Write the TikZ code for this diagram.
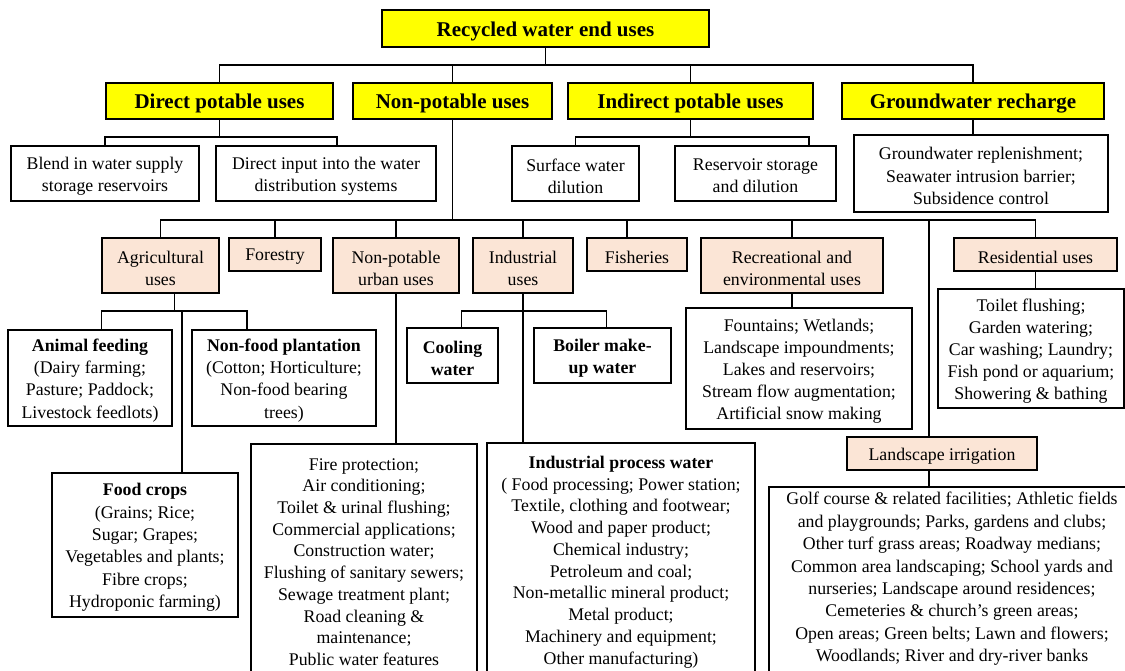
\documentclass[tikz,border=0pt]{standalone}
\usepackage{fontspec}
\setmainfont{Liberation Serif}
\usetikzlibrary{calc}

\definecolor{headyellow}{HTML}{FFFF00}
\definecolor{cattan}{HTML}{FBE5D6}

\tikzset{
  frame/.style={draw=black, line width=1.5pt, inner sep=0pt, outer sep=0pt},
  txt/.style={inner sep=0pt, outer sep=0pt, align=center,
    font=\fontsize{13.35}{16.6}\selectfont},
  headbox/.style={frame, fill=headyellow},
  headbox text/.style={txt, font=\bfseries\fontsize{15.75}{18}\selectfont},
  catbox/.style={frame, fill=cattan},
  catbox text/.style={txt},
  listbox/.style={frame, fill=white},
  listbox text/.style={txt},
  tightlist/.style={frame, fill=white},
  tightlist text/.style={txt, font=\fontsize{13.35}{16.3}\selectfont},
  widelist/.style={frame, fill=white},
  widelist text/.style={txt, font=\fontsize{13.35}{16.8}\selectfont},
  link/.style={draw=black, line width=1.3pt},
}

% box from (x1,y1) to (x2,y2) in pixel units, text centred in it
\newcommand\placebox[7]{%
  \pgfmathsetmacro\boxw{(#4-#2)*0.75}%
  \pgfmathsetmacro\boxh{(#5-#3)*0.75}%
  \node[#6, minimum width=\boxw pt, minimum height=\boxh pt] (#1)
    at ({(#2+#4)/2},{(#3+#5)/2}) {};
  \node[#6 text] (#1-t) at ([yshift=-1.9pt]#1.center) {#7};}

% same, with the text block centred at height #7
\newcommand\placeboxat[8]{%
  \pgfmathsetmacro\boxw{(#4-#2)*0.75}%
  \pgfmathsetmacro\boxh{(#5-#3)*0.75}%
  \node[#6, minimum width=\boxw pt, minimum height=\boxh pt] (#1)
    at ({(#2+#4)/2},{(#3+#5)/2}) {};
  \node[#6 text] (#1-t) at ({(#2+#4)/2},#7) {#8};}

\begin{document}
\begin{tikzpicture}[x=0.75pt, y=-0.75pt]
\useasboundingbox (0,0) rectangle (1125,671);
\fill[white] (0,0) rectangle (1125,671);
\clip (0,0) rectangle (1125,671);

% ---- level 0 and 1
\placebox{title}{382}{10}{709}{47}{headbox}{Recycled water end uses}
\placebox{dp}{106}{83}{333}{119}{headbox}{Direct potable uses}
\placebox{np}{353}{83}{552}{119}{headbox}{Non-potable uses}
\placebox{ip}{568}{83}{813}{119}{headbox}{Indirect potable uses}
\placebox{gr}{842}{83}{1104}{119}{headbox}{Groundwater recharge}

% ---- potable branches
\placebox{blend}{11}{146}{199}{201}{listbox}{Blend in water supply\\storage reservoirs}
\placebox{direct}{216}{146}{436}{201}{listbox}{Direct input into the water\\distribution systems}
\placebox{surface}{512}{146}{639}{201}{listbox}{Surface water\\dilution}
\placebox{reservoir}{675}{146}{836}{201}{listbox}{Reservoir storage\\and dilution}
\placebox{grsub}{854}{135}{1108}{212}{listbox}{Groundwater replenishment;\\Seawater intrusion barrier;\\Subsidence control}

% ---- non-potable categories
\placebox{agri}{102}{238}{219}{293}{catbox}{Agricultural\\uses}
\placebox{forest}{229}{238}{321}{271}{catbox}{Forestry}
\placebox{npu}{333}{238}{459}{293}{catbox}{Non-potable\\urban uses}
\placebox{ind}{473}{238}{573}{293}{catbox}{Industrial\\uses}
\placebox{fish}{587}{238}{687}{271}{catbox}{Fisheries}
\placebox{rec}{701}{238}{883}{293}{catbox}{Recreational and\\environmental uses}
\placebox{res}{954}{238}{1117}{271}{catbox}{Residential uses}
\placebox{lscape}{847}{437}{1037}{470}{catbox}{Landscape irrigation}

% ---- detail boxes
\placebox{animal}{8}{330}{172}{426}{listbox}{\textbf{Animal feeding}\\(Dairy farming;\\Pasture; Paddock;\\Livestock feedlots)}
\placebox{nonfood}{192}{330}{376}{426}{listbox}{\textbf{Non-food plantation}\\(Cotton; Horticulture;\\Non-food bearing\\trees)}
\placebox{food}{52}{473}{238}{617}{widelist}{\textbf{Food crops}\\(Grains; Rice;\\Sugar; Grapes;\\Vegetables and plants;\\Fibre crops;\\Hydroponic farming)}
\placebox{cooling}{407}{328}{498}{383}{listbox}{\textbf{Cooling}\\\textbf{water}}
\placebox{boiler}{534}{328}{671}{383}{listbox}{\textbf{Boiler make-}\\\textbf{up water}}
\placebox{recsub}{686}{308}{912}{429}{listbox}{Fountains; Wetlands;\\Landscape impoundments;\\Lakes and reservoirs;\\Stream flow augmentation;\\Artificial snow making}
\placebox{ressub}{938}{289}{1124}{408}{listbox}{Toilet flushing;\\Garden watering;\\Car washing; Laundry;\\Fish pond or aquarium;\\Showering \& bathing}
\placeboxat{npusub}{251}{444}{477}{700}{tightlist}{562}{Fire protection;\\Air conditioning;\\Toilet \& urinal flushing;\\Commercial applications;\\Construction water;\\Flushing of sanitary sewers;\\Sewage treatment plant;\\Road cleaning \&\\maintenance;\\Public water features}
\placeboxat{indsub}{487}{443}{755}{700}{tightlist}{562}{\textbf{Industrial process water}\\( Food processing; Power station;\\Textile, clothing and footwear;\\Wood and paper product;\\Chemical industry;\\Petroleum and coal;\\Non-metallic mineral product;\\Metal product;\\Machinery and equipment;\\Other manufacturing)}
\placeboxat{lsub}{769}{487}{1135}{700}{widelist}{579}{Golf course \& related facilities; Athletic fields\\and playgrounds; Parks, gardens and clubs;\\Other turf grass areas; Roadway medians;\\Common area landscaping; School yards and\\nurseries; Landscape around residences;\\Cemeteries \& church’s green areas;\\Open areas; Green belts; Lawn and flowers;\\Woodlands; River and dry-river banks}

% ---- bus levels
\coordinate (busA) at (0,65);
\coordinate (busB) at (0,137);
\coordinate (busC) at (0,220);
\coordinate (busD) at (0,311);

% ---- off-centre attachment points on box edges
\coordinate (directTop) at ($(direct.north west)!0.55!(direct.north east)$);
\coordinate (resTop) at ($(reservoir.north west)!0.83!(reservoir.north east)$);
\coordinate (agriBot) at ($(agri.south west)!0.62!(agri.south east)$);
\coordinate (animalTop) at ($(animal.north west)!0.57!(animal.north east)$);
\coordinate (nonfoodTop) at ($(nonfood.north west)!0.3!(nonfood.north east)$);
\coordinate (foodTop) at ($(food.north west)!0.7!(food.north east)$);
\coordinate (coolTop) at ($(cooling.north west)!0.6!(cooling.north east)$);
\coordinate (boilTop) at ($(boiler.north west)!0.53!(boiler.north east)$);
\coordinate (fishTop) at ($(fish.north west)!0.4!(fish.north east)$);
\coordinate (lsTop) at ($(lscape.north west)!0.43!(lscape.north east)$);
\coordinate (lsBot) at ($(lscape.south west)!0.43!(lscape.south east)$);

% ---- connectors: top level
\draw[link] (title.south) -- (title.south |- busA);
\draw[link] (dp.north) -- (dp.north |- busA) -- (gr.north |- busA) -- (gr.north);
\draw[link] (np.north) -- (np.north |- busA);
\draw[link] (ip.north) -- (ip.north |- busA);

% direct potable
\draw[link] (dp.south) -- (dp.south |- busB);
\draw[link] (blend.north) -- (blend.north |- busB) -- (directTop |- busB) -- (directTop);
% indirect potable
\draw[link] (ip.south) -- (ip.south |- busB);
\draw[link] (surface.north) -- (surface.north |- busB) -- (resTop |- busB) -- (resTop);
% groundwater recharge
\draw[link] (gr.south) -- (gr.south |- grsub.north);

% non-potable
\draw[link] (np.south) -- (np.south |- busC);
\draw[link] (agri.north) -- (agri.north |- busC) -- (res.north |- busC) -- (res.north);
\draw[link] (forest.north) -- (forest.north |- busC);
\draw[link] (npu.north) -- (npu.north |- busC);
\draw[link] (ind.north) -- (ind.north |- busC);
\draw[link] (fishTop) -- (fishTop |- busC);
\draw[link] (rec.north) -- (rec.north |- busC);
\draw[link] (lsTop |- busC) -- (lsTop);

% agricultural
\draw[link] (agriBot) -- (agriBot |- busD);
\draw[link] (animalTop) -- (animalTop |- busD) -- (nonfoodTop |- busD) -- (nonfoodTop);
\draw[link] (foodTop |- busD) -- (foodTop);

% urban, industrial
\draw[link] (npu.south) -- (npu.south |- npusub.north);
\draw[link] (ind.south) -- (ind.south |- indsub.north);
\draw[link] (coolTop) -- (coolTop |- busD) -- (boilTop |- busD) -- (boilTop);

% recreational, residential, landscape
\draw[link] (rec.south) -- (rec.south |- recsub.north);
\draw[link] (res.south) -- (res.south |- ressub.north);
\draw[link] (lsBot) -- (lsBot |- lsub.north);
\end{tikzpicture}
\end{document}
